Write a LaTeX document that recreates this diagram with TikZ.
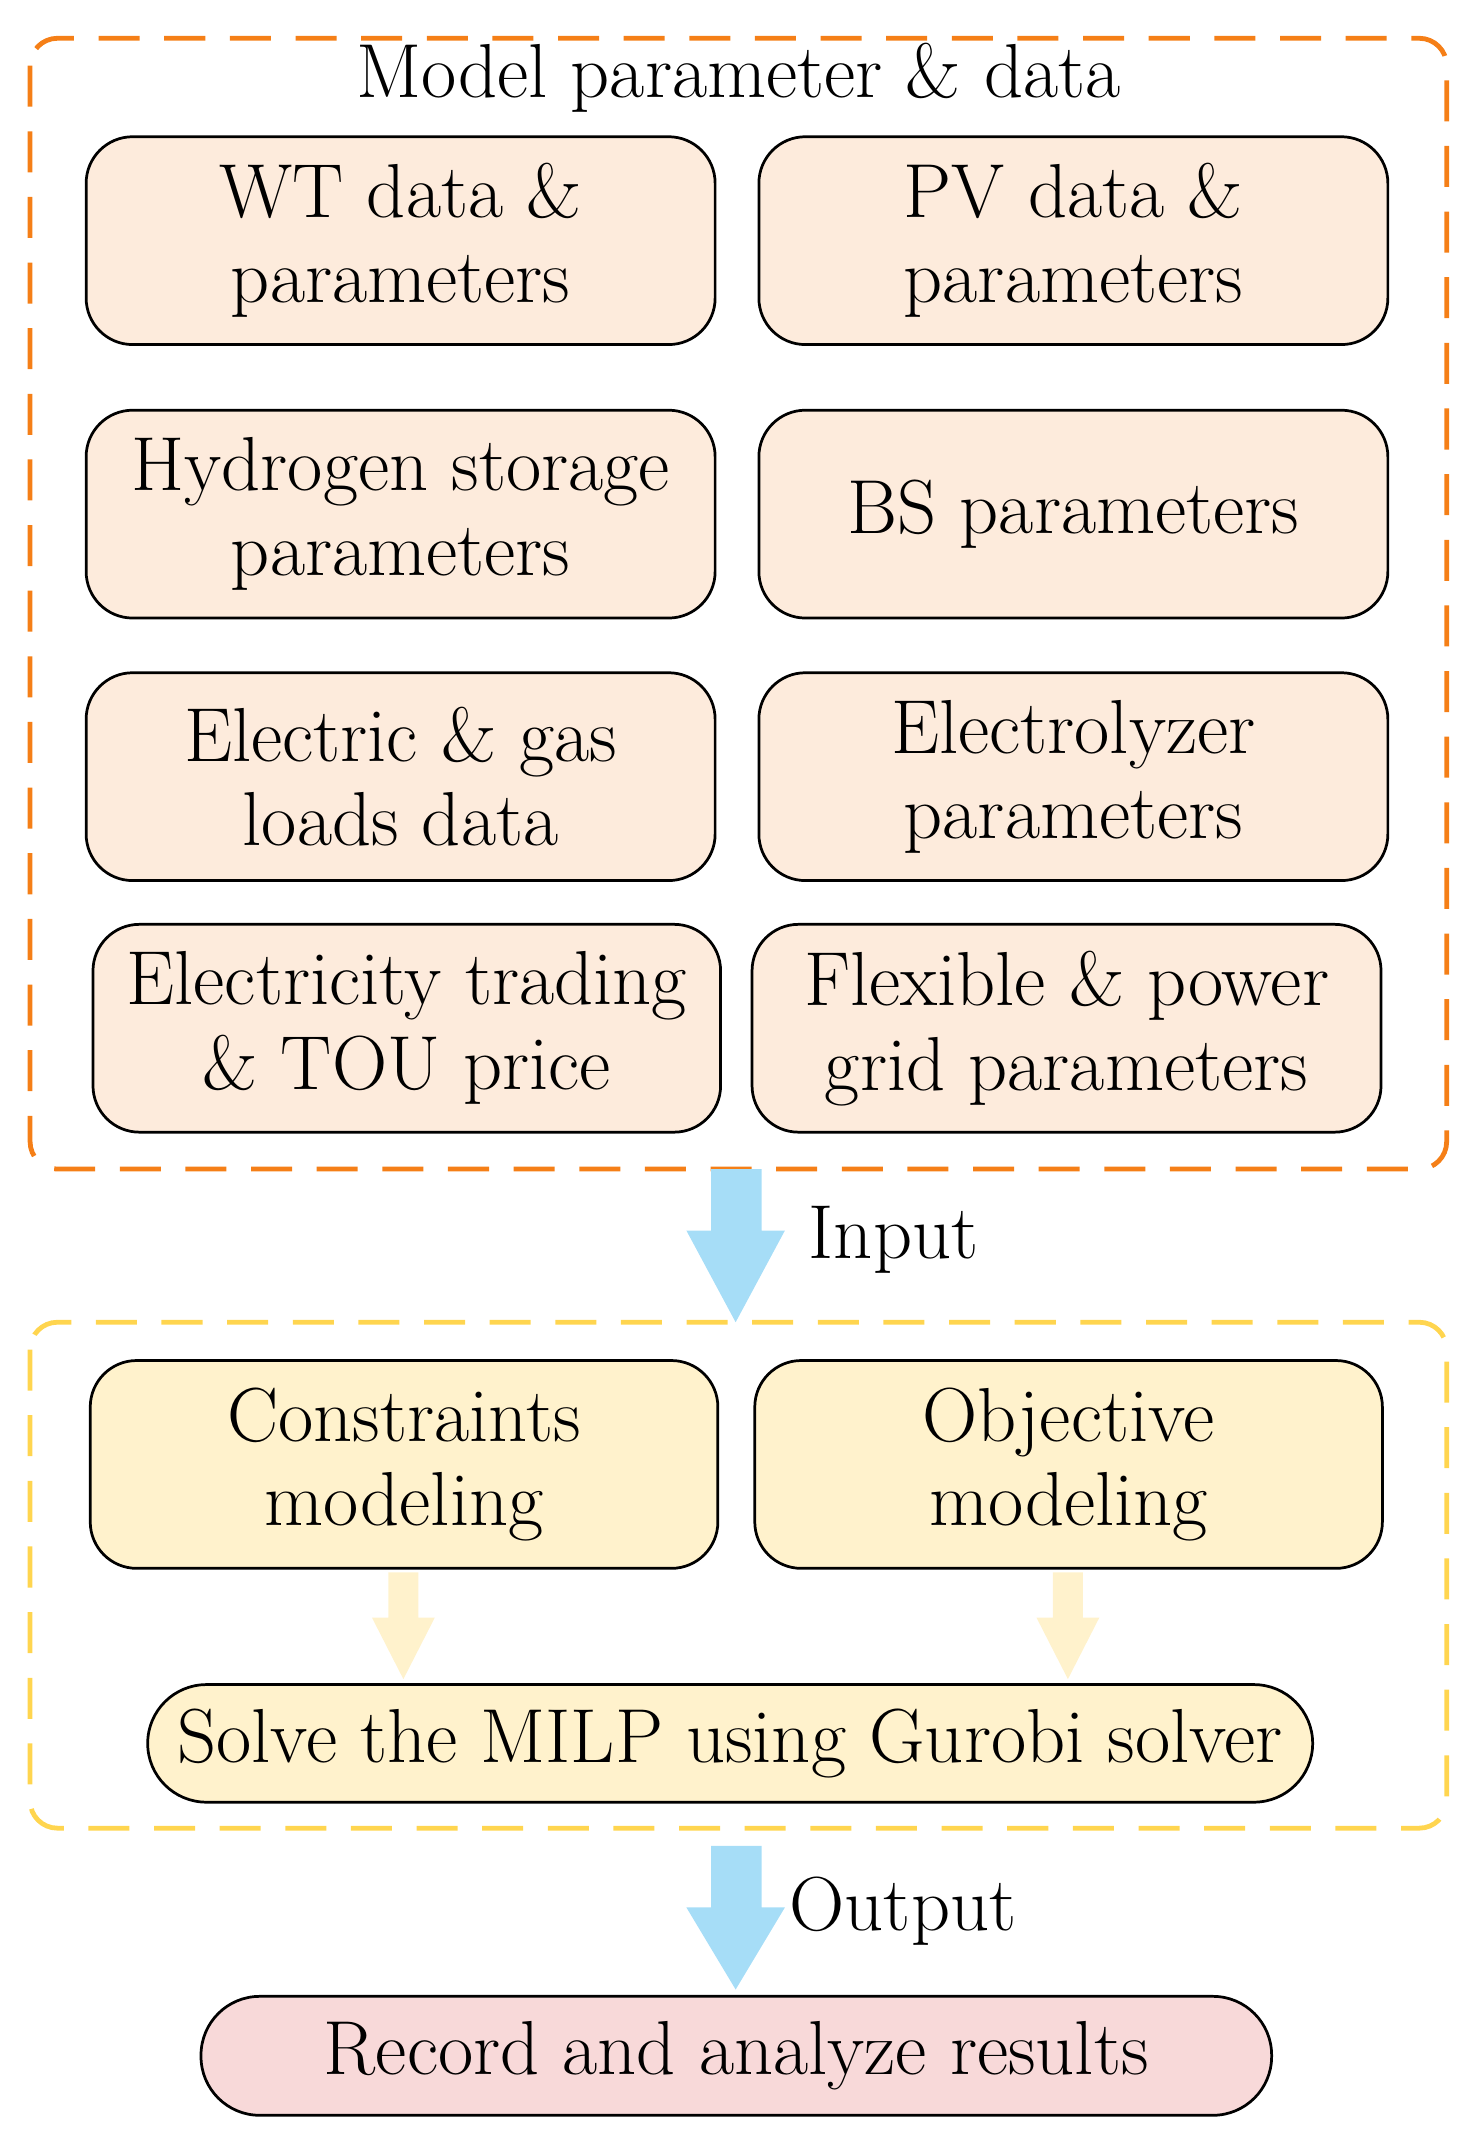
\documentclass[tikz,border=0pt]{standalone}
\usetikzlibrary{calc}
\definecolor{peach}{HTML}{FDEBDC}
\definecolor{ylw}{HTML}{FFF2CC}
\definecolor{pinkf}{HTML}{F8D9D9}
\definecolor{orng}{HTML}{F57F17}
\definecolor{gold}{HTML}{FFD54F}
\definecolor{sky}{HTML}{A6DDF7}
\begin{document}
\begin{tikzpicture}[x=1pt,y=-1pt,
 txt/.style={font=\fontsize{56}{62}\selectfont},
 pbox/.style={draw=black,line width=2pt,rounded corners=34pt,fill=peach,align=center,txt},
 ybox/.style={draw=black,line width=2pt,rounded corners=34pt,fill=ylw,align=center,txt},
 pill/.style={draw=black,line width=2pt,rounded corners=43pt,align=center,txt}]
\useasboundingbox (0,0) rectangle (1076,1568);
% frames
\draw[orng,line width=3.5pt,dash pattern=on 30pt off 18pt,rounded corners=20pt] (22,28) rectangle (1058,855);
\node[txt] (title) at (540,57) {Model parameter \& data};
\draw[gold,line width=3.5pt,dash pattern=on 30pt off 18pt,rounded corners=20pt] (22,967) rectangle (1058,1337);
% peach boxes
\newcommand{\pb}[6]{\draw[pbox] (#2,#3) rectangle (#4,#5) node[midway,txt] (#1) {#6};}
\pb{wt}{63}{100}{523}{252}{WT data \&\\parameters}
\pb{pv}{555}{100}{1015}{252}{PV data \&\\parameters}
\pb{hs}{63}{300}{523}{452}{Hydrogen storage\\parameters}
\pb{bs}{555}{300}{1015}{452}{BS parameters}
\pb{el}{63}{492}{523}{644}{Electric \& gas\\loads data}
\pb{ez}{555}{492}{1015}{644}{Electrolyzer\\parameters}
\pb{et}{68}{676}{527}{828}{Electricity trading\\\& TOU price}
\pb{fx}{550}{676}{1010}{828}{Flexible \& power\\grid parameters}
% yellow boxes
\draw[ybox] (66,995) rectangle (525,1147) node[midway,txt,align=center] (con) {Constraints\\modeling};
\draw[ybox] (552,995) rectangle (1011,1147) node[midway,txt,align=center] (obj) {Objective\\modeling};
\draw[pill,fill=ylw] (108,1232) rectangle (960,1318) node[midway,txt] (sol) {Solve the MILP using Gurobi solver};
\draw[pill,fill=pinkf] (147,1460) rectangle (930,1547) node[midway,txt] (rec) {Record and analyze results};
% block arrows
\fill[sky] (520,855) -- (557,855) -- (557,900) -- (574,900) -- (538,967) -- (502,900) -- (520,900) -- cycle;
\node[txt,anchor=west] (in) at (588,907) {Input};
\fill[sky] (520,1350) -- (557,1350) -- (557,1395) -- (574,1395) -- (538,1455) -- (502,1395) -- (520,1395) -- cycle;
\node[txt,anchor=west] (out) at (574,1398) {Output};
\fill[ylw] (284,1150) -- (306,1150) -- (306,1183) -- (318,1183) -- (295,1228) -- (272,1183) -- (284,1183) -- cycle;
\fill[ylw] (770,1150) -- (792,1150) -- (792,1183) -- (804,1183) -- (781,1228) -- (758,1183) -- (770,1183) -- cycle;
\end{tikzpicture}
\end{document}
